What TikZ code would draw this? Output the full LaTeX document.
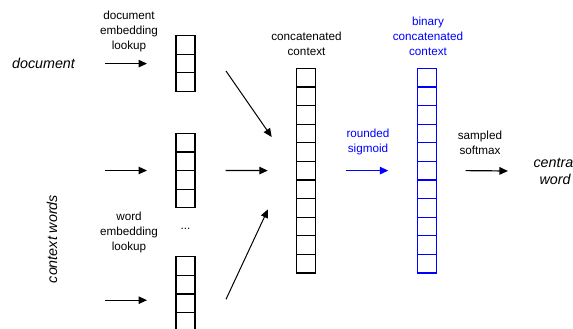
\documentclass[tikz,border=0pt]{standalone}
\usepackage{fontspec}
\setmainfont{Liberation Sans}
\usetikzlibrary{arrows.meta}
\definecolor{netblue}{RGB}{0,0,255}

\tikzset{
  cell/.style={draw, minimum width=19pt, minimum height=18.6pt, inner sep=0pt, outer sep=0pt, line width=1.2pt},
  arr/.style={line width=1.2pt, -{Triangle[length=8.5pt,width=7.5pt]}},
  lbl/.style={font=\fontsize{11.7}{15}\selectfont, align=center, inner sep=0pt},
  big/.style={font=\fontsize{14.3}{17}\selectfont\itshape, align=center, inner sep=0pt}
}

\begin{document}
\begin{tikzpicture}[x=1pt,y=-1pt]
\clip (0,0) rectangle (573,329);

% embedding vectors
\foreach \i in {1,2,3} {\node[cell] (doc-\i) at (185.5,{35.7+(\i-0.5)*18.6}) {};}
\foreach \i in {1,...,4} {\node[cell] (ctx-\i) at (185.5,{133.3+(\i-0.5)*18.6}) {};}
\foreach \i in {1,...,4} {\node[cell] (wrd-\i) at (185.5,{256.7+(\i-0.5)*18.6}) {};}
\foreach \i in {1,...,11} {\node[cell] (cat-\i) at (306.3,{68.3+(\i-0.5)*18.6}) {};}
\foreach \i in {1,...,11} {\node[cell, netblue] (bin-\i) at (426.8,{68.3+(\i-0.5)*18.6}) {};}

% labels
\node[big] (docword) at (43.5,63) {document};
\node[big, rotate=90] (ctxwords) at (52,239) {context words};
\node[lbl] (doclookup) at (129,31.5) {document\\embedding\\lookup};
\node[lbl] (wrdlookup) at (129,232) {word\\embedding\\lookup};
\node[lbl] (dots) at (185.5,229) {...};
\node[lbl] (catlbl) at (306.5,43.5) {concatenated\\context};
\node[lbl, netblue] (binlbl) at (428,36) {binary\\concatenated\\context};
\node[lbl, netblue] (siglbl) at (368,141.5) {rounded\\sigmoid};
\node[lbl] (smlbl) at (480,142.5) {sampled\\softmax};
\node[big] (central) at (555,171) {central\\word};

% arrows
\draw[arr] ([xshift=-71pt]doc-2.west) -- ([xshift=-29pt]doc-2.west);
\draw[arr] ([xshift=-71pt]ctx-2.south west) -- ([xshift=-29pt]ctx-2.south west);
\draw[arr] ([shift={(-71pt,3pt)}]wrd-3.west) -- ([shift={(-29pt,3pt)}]wrd-3.west);

\coordinate (docout) at (226,71);
\coordinate (catin-a) at (271.7,137);
\coordinate (wrdout) at (226,299.3);
\coordinate (catin-b) at (268,209.3);
\draw[arr, line width=1pt] (docout) -- (catin-a);
\draw[arr, line width=1pt] (wrdout) -- (catin-b);
\draw[arr] ([xshift=30.7pt]ctx-2.south east) -- ([xshift=-29pt]cat-6.west);

\draw[arr, netblue] ([xshift=29.7pt]cat-6.east) -- ([xshift=-29pt]bin-6.west);
\draw[arr] ([xshift=29.4pt]bin-6.east) -- ([xshift=-25.4pt]central.west);

\end{tikzpicture}
\end{document}
